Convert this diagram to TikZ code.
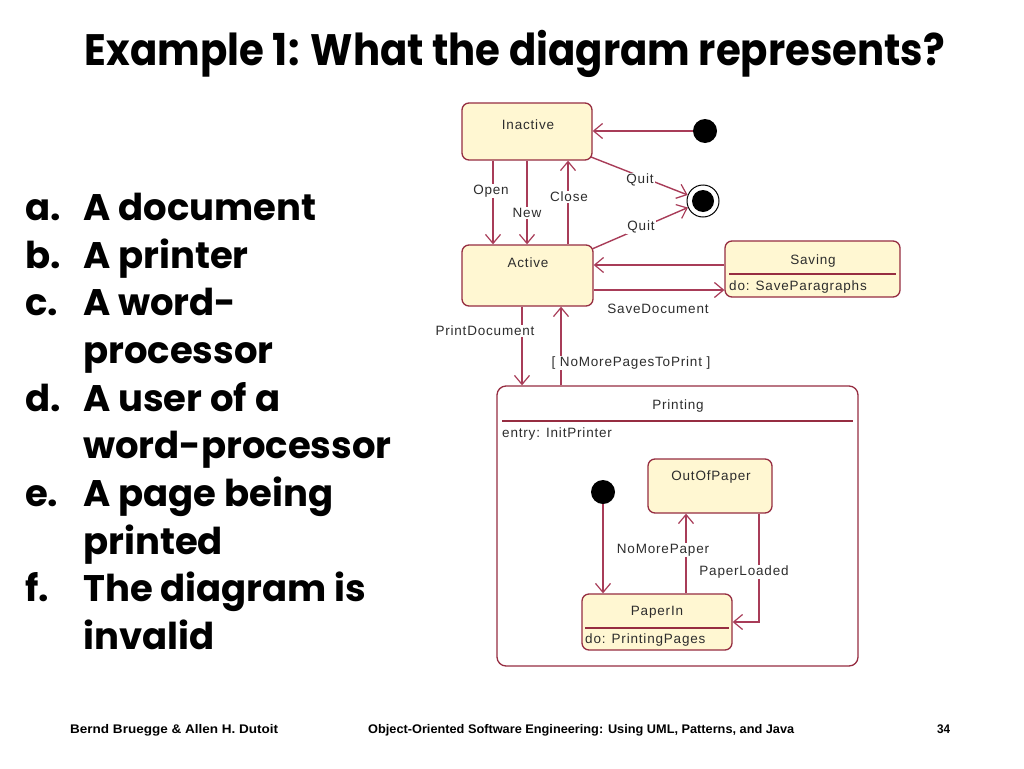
\documentclass[tikz,border=0pt]{standalone}
\usepackage{fontspec}
\usepackage{graphicx}
\setmainfont{Liberation Sans}
\newfontfamily\gothic{Poppins}
\newfontfamily\uml[LetterSpace=6]{Liberation Sans}
\usetikzlibrary{arrows.meta}
\definecolor{stfill}{RGB}{255,247,210}
\definecolor{stline}{RGB}{150,45,65}
\definecolor{trline}{RGB}{168,60,88}
\definecolor{umltext}{RGB}{45,45,45}
\tikzset{
  statebox/.style={draw=stline, fill=stfill, rounded corners=7pt, line width=1.3pt, inner sep=0pt},
  compbox/.style={draw=stline, fill=white, rounded corners=9pt, line width=1.3pt, inner sep=0pt},
  divider/.style={draw=stline, line width=1.2pt},
  tr/.style={draw=trline, line width=1.4pt},
  tra/.style={tr, -{Straight Barb[length=9pt,width=15pt,line width=1.2pt]}},
  umltxt/.style={font=\uml\fontsize{13.5}{15}\selectfont, text=umltext, inner sep=1pt},
  lbl/.style={umltxt},
  dot/.style={circle, fill=black, minimum size=24pt, inner sep=0pt},
  listtxt/.style={font=\gothic\bfseries\fontsize{37}{40}\selectfont, anchor=base west, inner sep=0pt},
  foot/.style={font=\bfseries\fontsize{12.5}{14}\selectfont, anchor=base west, inner sep=0pt}
}
\begin{document}
\begin{tikzpicture}[x=1pt,y=-1pt]
\useasboundingbox[fill=white] (0,0) rectangle (1024,768);

% title
\node[inner sep=0pt, anchor=base] (title) at (515,65)
  {\resizebox{860pt}{\height}{\gothic\bfseries\fontsize{44}{48}\selectfont Example 1: What the diagram represents?}};

% list
\node[listtxt] (la) at (25,220) {a.};
\node[listtxt] (lat) at (83,220) {A document};
\node[listtxt] (lb) at (25,268) {b.};
\node[listtxt] (lbt) at (83,268) {A printer};
\node[listtxt] (lc) at (25,315.5) {c.};
\node[listtxt] (lct) at (83,315.5) {A word-};
\node[listtxt] (lct2) at (83,363) {processor};
\node[listtxt] (ld) at (25,411) {d.};
\node[listtxt] (ldt) at (83,411) {A user of a};
\node[listtxt] (ldt2) at (83,458.5) {word-processor};
\node[listtxt] (le) at (25,506) {e.};
\node[listtxt] (let) at (83,506) {A page being};
\node[listtxt] (let2) at (83,554) {printed};
\node[listtxt] (lf) at (25,601.5) {f.};
\node[listtxt] (lft) at (83,601.5) {The diagram is};
\node[listtxt] (lft2) at (83,649) {invalid};

% footer
\node[foot] (f1) at (70,733) {\resizebox{208pt}{\height}{Bernd Bruegge \& Allen H. Dutoit}};
\node[foot] (f2) at (368,733) {\resizebox{426pt}{\height}{Object-Oriented Software Engineering: Using UML, Patterns, and Java}};
\node[foot] (f3) at (937,733) {\resizebox{13pt}{\height}{34}};

% states
\node[statebox, minimum width=130pt, minimum height=57pt] (inactive) at (527,131.5) {};
\node[umltxt] (inactiveT) at (528,125) {Inactive};
\node[statebox, minimum width=131pt, minimum height=61pt] (active) at (527.5,275.5) {};
\node[umltxt] (activeT) at (528,263) {Active};
\node[statebox, minimum width=175pt, minimum height=56pt] (saving) at (812.5,269) {};
\draw[divider] (729,274) -- (896,274);
\node[umltxt] (savingT) at (813,261) {Saving};
\node[umltxt, anchor=west] (savingD) at (728,287) {do: SaveParagraphs};

\node[compbox, minimum width=361pt, minimum height=280pt] (printing) at (677.5,526) {};
\draw[divider] (502,421) -- (853,421);
\node[umltxt] (printingT) at (678,406) {Printing};
\node[umltxt, anchor=west] (printingE) at (501,434) {entry: InitPrinter};

\node[statebox, minimum width=124pt, minimum height=54pt] (oop) at (710,486) {};
\node[umltxt] (oopT) at (711,477) {OutOfPaper};
\node[statebox, minimum width=150pt, minimum height=56pt] (paperin) at (657,622) {};
\draw[divider] (585,628) -- (729,628);
\node[umltxt] (paperinT) at (657,612) {PaperIn};
\node[umltxt, anchor=west] (paperinD) at (584,640) {do: PrintingPages};

% pseudo states
\node[dot] (init1) at (705,131) {};
\node[circle, draw=black, line width=1pt, minimum size=32pt, inner sep=0pt] (final) at (703,201) {};
\node[dot, minimum size=22pt] (finalin) at (703,201) {};
\node[dot] (init2) at (603,492) {};

% helper coordinates
\coordinate (x493) at (493,0);
\coordinate (x527) at (527,0);
\coordinate (x568) at (568,0);
\coordinate (x522) at (522,0);
\coordinate (x561) at (561,0);
\coordinate (x603) at (603,0);
\coordinate (x686) at (686,0);
\coordinate (x759) at (759,0);
\coordinate (y265) at (0,265);
\coordinate (y290) at (0,290);
\coordinate (y622) at (0,622);
\coordinate (q1s) at (591,157);
\coordinate (q2s) at (592,249);
\coordinate (pl) at (759,622);

% transitions
\draw[tra] (init1) -- (inactive.east |- init1);
\draw[tra] (inactive.south -| x493) -- (active.north -| x493);
\draw[tra] (inactive.south -| x527) -- (active.north -| x527);
\draw[tra] (active.north -| x568) -- (inactive.south -| x568);
\draw[tra] (q1s) -- (final);
\draw[tra] (q2s) -- (final);
\draw[tra] (saving.west |- y265) -- (active.east |- y265);
\draw[tra] (active.east |- y290) -- (saving.west |- y290);
\draw[tra] (active.south -| x522) -- (printing.north -| x522);
\draw[tra] (printing.north -| x561) -- (active.south -| x561);
\draw[tra] (init2) -- (paperin.north -| x603);
\draw[tra] (paperin.north -| x686) -- (oop.south -| x686);
\draw[tra] (oop.south -| x759) -- (pl) -- (paperin.east |- pl);

% transition labels
\node[lbl, fill=white] (lOpen) at (491,191) {Open};
\node[lbl, fill=white] (lNew) at (527,213) {New};
\node[lbl, fill=white] (lClose) at (569,197) {Close};
\node[lbl, fill=white] (lQuit1) at (640,180) {Quit};
\node[lbl, fill=white] (lQuit2) at (641,227) {Quit};
\node[lbl] (lSave) at (658,309) {SaveDocument};
\node[lbl, fill=white] (lPrint) at (485,331) {PrintDocument};
\node[lbl, fill=white] (lNoMore) at (631,363) {[ NoMorePagesToPrint ]};
\node[lbl, fill=white] (lNMP) at (663,550) {NoMorePaper};
\node[lbl, fill=white] (lPL) at (744,572) {PaperLoaded};
\end{tikzpicture}
\end{document}
